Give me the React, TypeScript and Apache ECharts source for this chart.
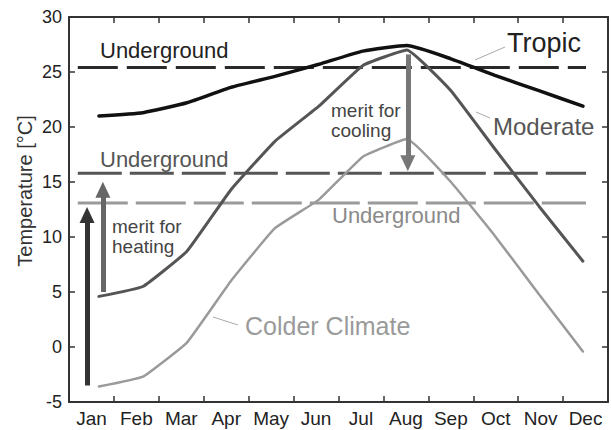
import React, { useEffect, useRef } from "react";
import * as echarts from "echarts";

// ---- data ----
const months = ["Jan", "Feb", "Mar", "Apr", "May", "Jun", "Jul", "Aug", "Sep", "Oct", "Nov", "Dec"];
const tropic = [21.0, 21.3, 22.2, 23.6, 24.6, 25.7, 26.9, 27.4, 26.2, 24.7, 23.3, 21.9];
const moderate = [4.6, 5.5, 8.7, 14.3, 18.7, 21.9, 25.6, 27.0, 23.3, 18.0, 12.8, 7.8];
const colder = [-3.6, -2.7, 0.4, 6.0, 10.8, 13.4, 17.3, 18.9, 15.0, 10.1, 4.8, -0.4];
const undergroundTemps = [25.4, 15.8, 13.1]; // tropic, moderate, colder
const yMin = -5;
const yMax = 30;
const yInterval = 5;
// arrows: [month position, from, to]
const heatingColderArrow = [-0.27, -3.5, 12.0];
const heatingModerateArrow = [0.09, 5.0, 14.3];
const coolingArrow = [7.02, 26.6, 16.7];

const FONT = "'Liberation Sans', Arial, Helvetica, sans-serif";

function toPairs(vals: number[]) {
  return vals.map((v, i) => [i, v]);
}

function undergroundSeries(v: number, color: string, dash: number[], width: number) {
  return {
    type: "line",
    xAxisIndex: 2,
    yAxisIndex: 0,
    data: [[-0.48, v], [11.07, v]],
    symbol: "none",
    lineStyle: { color, width, type: dash },
    silent: true,
    z: 1,
  };
}

function arrow(a: number[], color: string, width: number) {
  return [
    { coord: [a[0], a[1]], lineStyle: { color, width, type: "solid" } },
    { coord: [a[0], a[2]] },
  ];
}

export default function App() {
  const ref = useRef<HTMLDivElement>(null);
  useEffect(() => {
    if (!ref.current) return;
    const chart = echarts.init(ref.current, undefined, { renderer: "svg" });
    const axisLine = { show: true, onZero: false, lineStyle: { color: "#333", width: 2 } };
    const axisTick = { show: true, inside: true, length: 6, lineStyle: { color: "#333", width: 1.5 } };
    const txt = (text: string, x: number, y: number, size: number, color: string, extra: any = {}) => ({
      type: "text",
      x,
      y,
      silent: true,
      style: {
        text,
        x: 0,
        y: 0,
        fontSize: size,
        fontFamily: FONT,
        fill: color,
        textAlign: "left",
        textVerticalAlign: "middle",
        ...extra,
      },
    });
    const leader = (x1: number, y1: number, x2: number, y2: number) => ({
      type: "line",
      silent: true,
      shape: { x1, y1, x2, y2 },
      style: { stroke: "#aaa", lineWidth: 1 },
    });
    chart.setOption({
      animation: false,
      backgroundColor: "#fff",
      grid: { left: 69, right: 3, top: 17, bottom: 28, containLabel: false },
      xAxis: [
        {
          type: "category",
          data: months,
          position: "bottom",
          boundaryGap: true,
          axisLine,
          axisTick: { ...axisTick, alignWithLabel: false },
          axisLabel: { fontSize: 19, color: "#222", fontFamily: FONT, margin: 7, interval: 0 },
          splitLine: { show: false },
        },
        {
          type: "category",
          data: months,
          position: "top",
          boundaryGap: true,
          axisLine,
          axisTick,
          axisLabel: { show: false },
          splitLine: { show: false },
        },
        {
          type: "value",
          min: -0.68,
          max: 11.57,
          show: false,
          axisLine: { show: false, onZero: false },
          splitLine: { show: false },
        },
      ],
      yAxis: [
        {
          type: "value",
          min: yMin,
          max: yMax,
          interval: yInterval,
          position: "left",
          axisLine,
          axisTick,
          axisLabel: { fontSize: 18, color: "#222", fontFamily: FONT, margin: 7 },
          splitLine: { show: false },
        },
        {
          type: "value",
          min: yMin,
          max: yMax,
          interval: yInterval,
          position: "right",
          axisLine,
          axisTick,
          axisLabel: { show: false },
          splitLine: { show: false },
        },
      ],
      series: [
        undergroundSeries(undergroundTemps[0], "#2a2a2a", [40, 9], 3),
        undergroundSeries(undergroundTemps[1], "#555", [44, 8], 3),
        undergroundSeries(undergroundTemps[2], "#9a9a9a", [50, 8], 3),
        {
          type: "line",
          name: "Colder Climate",
          xAxisIndex: 2,
          data: toPairs(colder),
          symbol: "none",
          smooth: 0.1,
          lineStyle: { color: "#9a9a9a", width: 2.5, cap: "round" },
          z: 3,
          markLine: {
            silent: true,
            symbol: ["none", "triangle"],
            symbolSize: [15, 16],
            label: { show: false },
            data: [
              arrow(heatingColderArrow, "#333", 5),
              arrow(heatingModerateArrow, "#666", 5),
              arrow(coolingArrow, "#777", 5),
            ],
          },
        },
        {
          type: "line",
          name: "Moderate",
          xAxisIndex: 2,
          data: toPairs(moderate),
          symbol: "none",
          smooth: 0.1,
          lineStyle: { color: "#555", width: 3, cap: "round" },
          z: 4,
        },
        {
          type: "line",
          name: "Tropic",
          xAxisIndex: 2,
          data: toPairs(tropic),
          symbol: "none",
          smooth: 0.15,
          lineStyle: { color: "#111", width: 3.5, cap: "round" },
          z: 5,
        },
      ],
      graphic: [
        txt("Underground", 100, 50, 22, "#222"),
        txt("Underground", 100, 159, 22, "#555"),
        txt("Underground", 332, 215, 22, "#8a8a8a"),
        txt("Tropic", 507, 43, 27, "#222"),
        txt("Moderate", 493, 126, 24, "#555"),
        txt("Colder Climate", 245, 326, 25, "#9a9a9a"),
        txt("merit for\nheating", 112, 236, 19, "#444", { lineHeight: 20 }),
        txt("merit for\ncooling", 331, 120, 19, "#444", { lineHeight: 20 }),
        leader(475, 60, 505, 47),
        leader(476, 112, 490, 118),
        leader(213, 317, 238, 325),
        {
          type: "text",
          x: 25,
          y: 191,
          rotation: Math.PI / 2,
          silent: true,
          style: {
            text: "Temperature [°C]",
            fontSize: 20,
            fontFamily: FONT,
            fill: "#333",
            textAlign: "center",
            textVerticalAlign: "middle",
          },
        },
      ],
    });
    return () => chart.dispose();
  }, []);
  return (
    <div
      ref={ref}
      style={{ position: "fixed", left: 0, top: 0, width: 611, height: 430, background: "#fff" }}
    />
  );
}
